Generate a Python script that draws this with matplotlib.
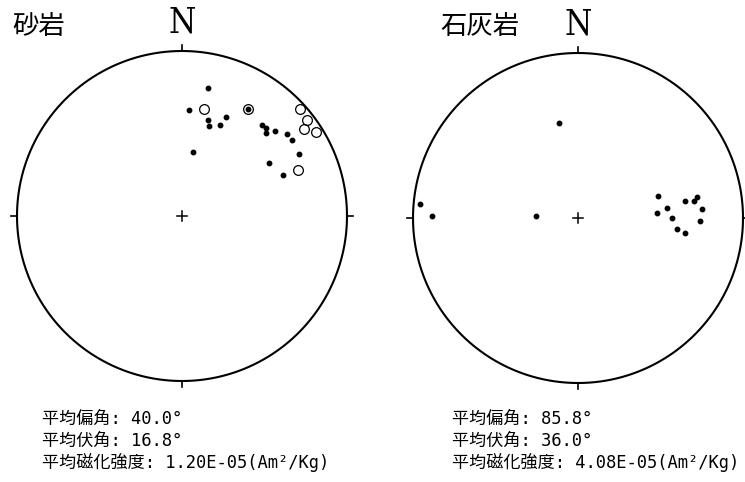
import numpy as np
import matplotlib
matplotlib.use("Agg")
import matplotlib.pyplot as plt

plt.rcParams['font.family'] = ['Noto Sans CJK JP', 'DejaVu Sans']

# sandstone: declination / inclination (deg); negative inc = upper hemisphere (open)
sand_dec = [11.4, 3.7, 15.0, 16.7, 22.9, 24.2, 9.7, 41.4, 43.7, 45.3, 47.7,
            52.2, 55.5, 62.2, 58.7, 68.0, 31.7,
            11.5, 31.7, 47.6, 52.5, 54.7, 58.1, 68.4]
sand_inc = [22.2, 35.6, 39.6, 42.4, 40.0, 34.8, 57.6, 27.2, 26.8, 29.0, 24.6,
            20.4, 20.0, 21.0, 38.4, 34.4, 25.0,
            -34.0, -25.0, -4.0, -5.2, -10.0, -4.6, -25.6]

# limestone
lime_dec = [348.7, 275.2, 270.9, 273.1, 74.7, 81.1, 81.8, 80.0, 86.0, 83.8,
            86.7, 90.0, 91.5, 96.5, 98.0]
lime_inc = [41.0, 4.4, 12.6, 69.2, 48.2, 34.8, 29.6, 27.6, 25.4, 45.0,
            50.2, 42.6, 26.8, 39.4, 34.8]

titles = ['砂岩', '石灰岩']
stats = [['平均偏角: 40.0°', '平均伏角: 16.8°', '平均磁化強度: 1.20E-05(Am²/Kg)'],
         ['平均偏角: 85.8°', '平均伏角: 36.0°', '平均磁化強度: 4.08E-05(Am²/Kg)']]


def project(dec, inc):
    d = np.radians(np.asarray(dec))
    i = np.radians(np.abs(np.asarray(inc)))
    r = np.sqrt(2) * np.sin((np.pi / 2 - i) / 2)
    return r * np.sin(d), r * np.cos(d)


def draw_net(ax, dec, inc):
    t = np.linspace(0, 2 * np.pi, 400)
    ax.plot(np.cos(t), np.sin(t), color='black', lw=1.5)
    for a in [0, 90, 180, 270]:
        ar = np.radians(a)
        ax.plot([np.sin(ar), 1.036 * np.sin(ar)], [np.cos(ar), 1.036 * np.cos(ar)],
                color='black', lw=1.2)
    ax.plot([-0.03, 0.03], [0, 0], color='black', lw=1.1)
    ax.plot([0, 0], [-0.03, 0.03], color='black', lw=1.1)
    x, y = project(dec, inc)
    inc = np.asarray(inc)
    down = inc >= 0
    ax.plot(x[down], y[down], 'o', ms=3.2, color='black', mec='black', ls='none')
    ax.plot(x[~down], y[~down], 'o', ms=7, mfc='none', mec='black', mew=0.9, ls='none')
    ax.text(0, 1.175, 'N', ha='center', va='center', fontsize=25,
            family='DejaVu Serif', fontstretch='condensed')
    ax.set_xlim(-1.1, 1.1)
    ax.set_ylim(-1.1, 1.1)
    ax.set_aspect('equal')
    ax.axis('off')


W, H = 745, 482
fig = plt.figure(figsize=(W / 100, H / 100), dpi=100)
size = 363
ax1 = fig.add_axes([0.5 / W, 84.5 / H, size / W, size / H])
ax2 = fig.add_axes([396.5 / W, 82.5 / H, size / W, size / H])
draw_net(ax1, sand_dec, sand_inc)
draw_net(ax2, lime_dec, lime_inc)

fig.text(12 / W, 1 - 26 / H, titles[0], fontsize=19, va='center', ha='left')
fig.text(440 / W, 1 - 26 / H, titles[1], fontsize=19, va='center', ha='left')

for x0, lines in zip([42, 452], stats):
    for k, s in enumerate(lines):
        fig.text(x0 / W, 1 - (419 + 21.7 * k) / H, s, fontsize=12.3,
                 va='center', ha='left',
                 family=['DejaVu Sans Mono', 'Noto Sans CJK JP'])

fig.savefig('out.png', dpi=100)
